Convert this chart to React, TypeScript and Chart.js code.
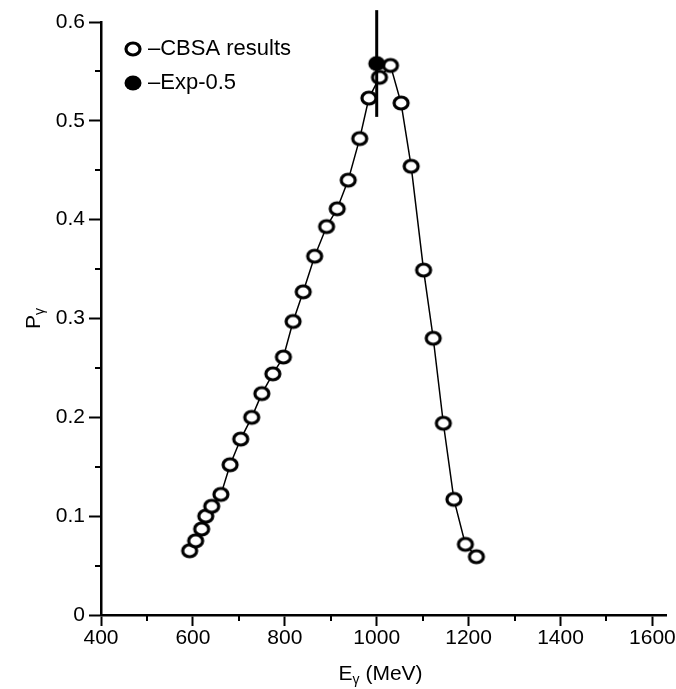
import { useEffect, useRef } from 'react';
import { Chart, registerables } from 'chart.js';

Chart.register(...registerables);

const cbsaEnergy = [593, 606, 619, 628, 641, 661, 681, 704, 728, 750, 774, 797, 818, 840, 865, 891, 914, 938, 963, 983, 1006, 1030, 1053, 1075, 1102, 1123, 1145, 1168, 1193, 1217];
const cbsaP = [0.065, 0.075, 0.087, 0.1, 0.11, 0.122, 0.152, 0.178, 0.2, 0.224, 0.244, 0.261, 0.297, 0.327, 0.363, 0.393, 0.411, 0.44, 0.482, 0.523, 0.544, 0.556, 0.518, 0.454, 0.349, 0.28, 0.194, 0.117, 0.0715, 0.059];
const expEnergy = [1000];
const expP = [0.558];
const expErr = [0.054];
const xTickValues = [400, 600, 800, 1000, 1200, 1400, 1600];
const xMinorTicks = [500, 700, 900, 1100, 1300, 1500];
const yTickValues = [0, 0.1, 0.2, 0.3, 0.4, 0.5, 0.6];
const yMinorTicks = [0.05, 0.15, 0.25, 0.35, 0.45, 0.55];
const legendLabels = ['\u2013CBSA results', '\u2013Exp-0.5'];

const FONT = '"Liberation Sans", Arial, Helvetica, sans-serif';

function makeMarker(filled: boolean): HTMLCanvasElement {
  const c = document.createElement('canvas');
  c.width = 20;
  c.height = 18;
  const g = c.getContext('2d')!;
  g.beginPath();
  if (filled) {
    g.ellipse(10, 9, 8.5, 7.5, 0, 0, Math.PI * 2);
    g.fillStyle = '#000';
    g.fill();
  } else {
    g.ellipse(10, 9, 7, 6, 0, 0, Math.PI * 2);
    g.fillStyle = '#fff';
    g.fill();
    g.lineWidth = 3.2;
    g.strokeStyle = '#000';
    g.stroke();
  }
  return c;
}

export default function App() {
  const ref = useRef<HTMLCanvasElement | null>(null);
  useEffect(() => {
    if (!ref.current) return;
    const openMarker = makeMarker(false);
    const filledMarker = makeMarker(true);

    const decorPlugin = {
      id: 'decor',
      afterDraw(chart: any) {
        const ctx = chart.ctx;
        const xs = chart.scales.x;
        const ys = chart.scales.y;
        const area = chart.chartArea;
        ctx.save();
        ctx.strokeStyle = '#000';
        ctx.lineWidth = 2;
        ctx.beginPath();
        xMinorTicks.forEach((v) => {
          const px = Math.round(xs.getPixelForValue(v));
          ctx.moveTo(px, area.bottom);
          ctx.lineTo(px, area.bottom + 6);
        });
        yMinorTicks.forEach((v) => {
          const py = Math.round(ys.getPixelForValue(v));
          ctx.moveTo(area.left - 6, py);
          ctx.lineTo(area.left, py);
        });
        ctx.stroke();

        // legend
        const lx = area.left + 32;
        const ly0 = area.top + 27;
        const gap = 34;
        ctx.drawImage(openMarker, lx - openMarker.width / 2, ly0 - openMarker.height / 2);
        ctx.drawImage(filledMarker, lx - filledMarker.width / 2, ly0 + gap - filledMarker.height / 2);
        ctx.fillStyle = '#000';
        ctx.font = `22px ${FONT}`;
        ctx.textBaseline = 'middle';
        ctx.textAlign = 'left';
        ctx.fillText(legendLabels[0], lx + 15, ly0);
        ctx.fillText(legendLabels[1], lx + 15, ly0 + gap);

        // x title
        const big = `21px ${FONT}`;
        const small = `14px ${FONT}`;
        const cx = (area.left + area.right) / 2 - 3;
        const ty = 672;
        ctx.font = big;
        const wE = ctx.measureText('E').width;
        const wRest = ctx.measureText(' (MeV)').width;
        ctx.font = small;
        const wG = ctx.measureText('\u03b3').width;
        let sx = cx - (wE + wG + wRest) / 2;
        ctx.textBaseline = 'alphabetic';
        ctx.font = big;
        ctx.fillText('E', sx, ty + 8);
        sx += wE;
        ctx.font = small;
        ctx.fillText('\u03b3', sx, ty + 12);
        sx += wG;
        ctx.font = big;
        ctx.fillText(' (MeV)', sx, ty + 8);

        // y title
        ctx.translate(32, (area.top + area.bottom) / 2);
        ctx.rotate(-Math.PI / 2);
        ctx.font = big;
        const wP = ctx.measureText('P').width;
        ctx.font = small;
        const wG2 = ctx.measureText('\u03b3').width;
        let sy = -(wP + wG2) / 2;
        ctx.font = big;
        ctx.fillText('P', sy, 8);
        sy += wP;
        ctx.font = small;
        ctx.fillText('\u03b3', sy, 12);
        ctx.restore();
      },
    };

    const chart = new Chart(ref.current, {
      type: 'scatter',
      data: {
        datasets: [
          {
            label: 'Exp-0.5',
            data: expEnergy.map((e, i) => ({ x: e, y: expP[i] })),
            pointStyle: filledMarker as any,
            pointRadius: 8,
            showLine: false,
            order: 0,
          },
          {
            label: 'err',
            type: 'line',
            data: expEnergy.flatMap((e, i) => [
              { x: e, y: expP[i] - expErr[i] },
              { x: e, y: expP[i] + expErr[i] },
            ]),
            borderColor: '#000',
            borderWidth: 3,
            pointRadius: 0,
            clip: false,
            order: 1,
          } as any,
          {
            label: 'CBSA results',
            data: cbsaEnergy.map((e, i) => ({ x: e, y: cbsaP[i] })),
            showLine: true,
            borderColor: '#000',
            borderWidth: 1.5,
            pointStyle: openMarker as any,
            pointRadius: 7,
            order: 2,
          },
        ],
      },
      options: {
        animation: false,
        responsive: false,
        layout: { padding: { top: 22, right: 9, left: 0, bottom: 0 } },
        plugins: { legend: { display: false }, tooltip: { enabled: false }, title: { display: false } },
        scales: {
          x: {
            type: 'linear',
            min: 400,
            max: 1630,
            afterBuildTicks: (s: any) => {
              s.ticks = xTickValues.map((v) => ({ value: v }));
            },
            afterFit: (s: any) => {
              s.height = 74;
            },
            grid: { drawOnChartArea: false, color: '#000', tickLength: 11, tickWidth: 2 },
            border: { color: '#000', width: 2.5 },
            ticks: {
              color: '#000',
              font: { family: FONT, size: 21 },
              padding: 0,
              maxRotation: 0,
              autoSkip: false,
              callback: (v: any) => String(v),
            },
          },
          y: {
            type: 'linear',
            min: 0,
            max: 0.6,
            afterBuildTicks: (s: any) => {
              s.ticks = yTickValues.map((v) => ({ value: v }));
            },
            afterFit: (s: any) => {
              s.width = 101;
            },
            grid: { drawOnChartArea: false, color: '#000', tickLength: 12, tickWidth: 2 },
            border: { color: '#000', width: 2.5 },
            ticks: {
              color: '#000',
              font: { family: FONT, size: 21 },
              padding: 4,
              autoSkip: false,
              callback: (v: any) => (v === 0 ? '0' : Number(v).toFixed(1)),
            },
          },
        },
      },
      plugins: [decorPlugin],
    });
    return () => chart.destroy();
  }, []);
  return (
    <div style={{ position: 'fixed', left: 0, top: 0, width: 676, height: 689, background: '#fff' }}>
      <canvas ref={ref} width={676} height={689} style={{ width: 676, height: 689, display: 'block' }} />
    </div>
  );
}
